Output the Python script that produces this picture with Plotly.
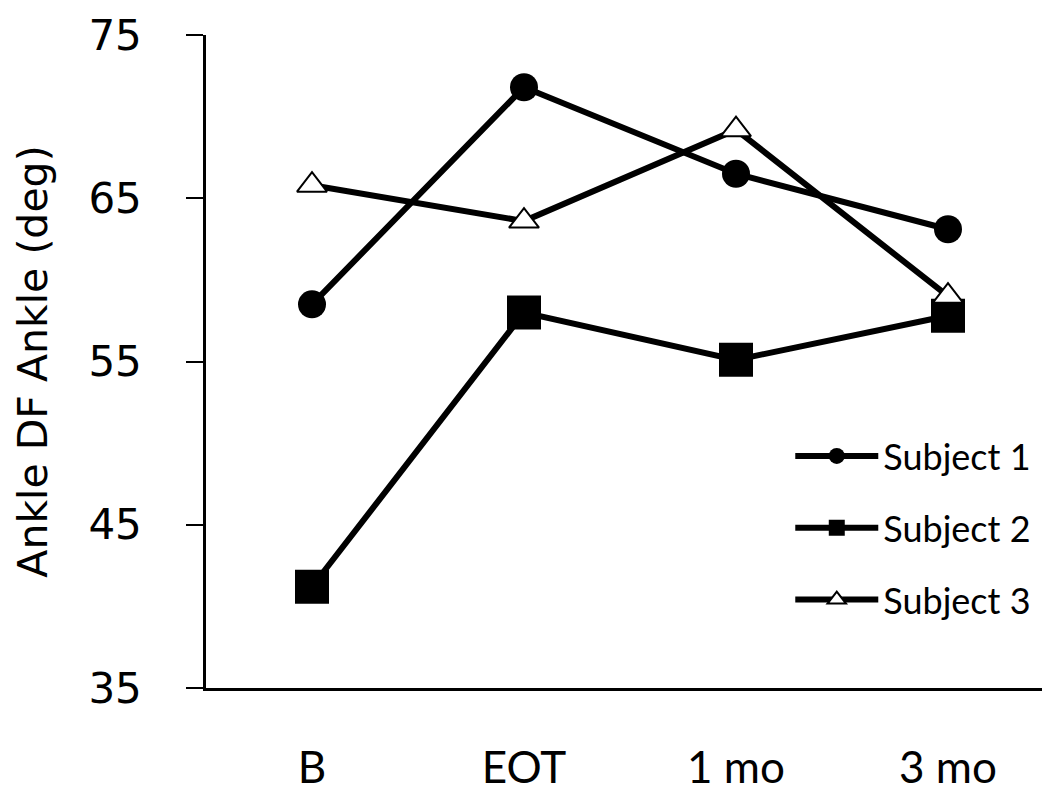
import plotly.graph_objects as go

categories = ["B", "EOT", "1 mo", "3 mo"]
subject1 = [58.5, 71.8, 66.5, 63.1]
subject2 = [41.2, 58.0, 55.1, 57.8]
subject3 = [65.8, 63.6, 69.2, 59.0]
y_ticks = [35, 45, 55, 65, 75]

fig = go.Figure()
fig.add_trace(go.Scatter(x=categories, y=subject1, name="Subject 1", mode="lines+markers",
                         line=dict(color="black", width=6),
                         marker=dict(symbol="circle", size=28, color="black"),
                         legendgroup="g1"))
fig.add_trace(go.Scatter(x=categories, y=subject2, name="Subject 2", mode="lines+markers",
                         line=dict(color="black", width=6),
                         marker=dict(symbol="square", size=34, color="black"),
                         legendgroup="g2"))
fig.add_trace(go.Scatter(x=categories, y=subject3, name="Subject 3", mode="lines+markers",
                         line=dict(color="black", width=6),
                         marker=dict(symbol="triangle-up", size=26, color="white",
                                     line=dict(color="black", width=2)),
                         legendgroup="g3"))

fig.update_layout(
    width=1050, height=791,
    margin=dict(l=198, r=4, t=27, b=111, autoexpand=False),
    paper_bgcolor="white", plot_bgcolor="white",
    showlegend=True,
    legend=dict(x=0.689, y=0.245, xanchor="left", yanchor="middle",
                font=dict(family="Lato", size=36, color="black"),
                tracegroupgap=22, itemwidth=83, bgcolor="rgba(0,0,0,0)"),
    xaxis=dict(type="category", range=[-0.5, 3.5], showline=True, linecolor="black",
               linewidth=2.5, ticks="", showgrid=False, zeroline=False, automargin=False,
               tickfont=dict(family="Lato", size=44, color="black"),
               ticklabelstandoff=39),
    yaxis=dict(range=[35, 75], tickvals=y_ticks, showline=True, linecolor="black",
               linewidth=2.5, ticks="outside", ticklen=17, tickcolor="black", tickwidth=2,
               showgrid=False, zeroline=False, automargin=False,
               tickfont=dict(family="DejaVu Sans", size=42, color="black"),
               ticklabelstandoff=36,
               title=dict(text="Ankle DF Ankle (deg)", standoff=29,
                          font=dict(family="DejaVu Sans", size=41, color="black"))),
)

fig.write_html("out.html")
